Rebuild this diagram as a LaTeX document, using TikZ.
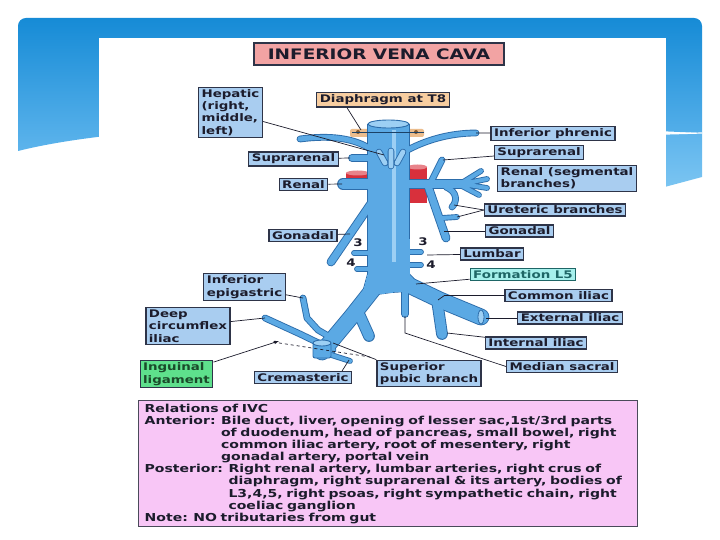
\documentclass[tikz,border=0pt]{standalone}
\usepackage{fontspec}
\setmainfont{DejaVu Sans}[FakeStretch=1.28]
\definecolor{hdrtop}{HTML}{168BD6}
\definecolor{hdrbot}{HTML}{5DB4EC}
\definecolor{hdrlight}{HTML}{8ACDF4}
\definecolor{boxfill}{HTML}{A9CDF0}
\definecolor{boxline}{HTML}{2E3448}
\definecolor{titlefill}{HTML}{F2A3A3}
\definecolor{diafill}{HTML}{F7CDA0}
\definecolor{greenfill}{HTML}{5EE08C}
\definecolor{greentxt}{HTML}{1A4A2A}
\definecolor{cyanfill}{HTML}{A6F0EC}
\definecolor{cyantxt}{HTML}{1E6666}
\definecolor{pinkfill}{HTML}{F8C6F6}
\definecolor{reledge}{HTML}{4A4A5A}
\definecolor{vein}{HTML}{5BA9E4}
\definecolor{veinline}{HTML}{2C6CAA}
\definecolor{veinhi}{HTML}{9CCFF4}
\definecolor{artery}{HTML}{D8303C}
\definecolor{txt}{HTML}{1C1C2C}
\tikzset{
  lbl/.style={draw=boxline, fill=boxfill, line width=1.2pt, inner xsep=3pt, inner ysep=2pt,
    text=txt, align=left, font=\bfseries\fontsize{10.5}{12.4}\selectfont},
  ttl/.style={lbl, fill=titlefill, minimum width=250bp, minimum height=22bp,
    font=\bfseries\fontsize{14.5}{16}\selectfont},
  relbox/.style={draw=reledge, fill=pinkfill, line width=1.4pt, inner xsep=6pt, inner ysep=3pt,
    text=txt, align=left, text width=487bp, font=\bfseries\fontsize{11}{12.2}\selectfont},
  num/.style={text=txt, inner sep=0pt, font=\bfseries\fontsize{10.5}{12}\selectfont},
  lead/.style={draw=txt, line width=0.7pt},
}
\newcommand{\ivcveins}[2]{%
\begin{scope}[#1, line cap=round, line join=round]
\draw[line width=41+#2, line cap=butt] (388.5,124) -- (388.5,250);
\filldraw[line width=#2] (368,240) -- (409,240) -- (409,274) -- (424,290) -- (392,292) -- (362,296) -- (368,274) -- cycle;
\draw[line width=15+#2] (382,278) -- (352,316) -- (322,352);
\draw[line width=15+#2] (398,280) -- (440,300) -- (481,317);
\draw[line width=10+#2] (360,316) -- (369,336);
\draw[line width=10+#2] (437,300) -- (442,334);
\draw[line width=6+#2] (405,292) -- (405,314);
\draw[line width=10+#2] (343,184) -- (372,184);
\draw[line width=9+#2] (404,184) -- (466,184);
\draw[line width=4+#2] (460,184) -- (481,171) (462,184) -- (487,179) (462,184) -- (487,188) (460,185) -- (479,195);
\draw[line width=5+#2] (430,184) -- (442,160);
\draw[line width=7+#2] (428,186) -- (446,238);
\draw[line width=5+#2] (446,187) .. controls (458,192) and (457,202) .. (452,207);
\draw[line width=4+#2] (442,218) -- (457,217);
\draw[line width=7+#2] (372,202) -- (331,262);
\draw[line width=4+#2] (354,253) -- (372,253) (357,269) -- (372,269) (404,252) -- (421,252) (404,265) -- (421,265);
\draw[line width=6+#2] (352,158) -- (372,158);
\draw[line width=5+#2] (300,139) .. controls (330,135) and (355,138) .. (372,150);
\draw[line width=5+#2] (404,152) .. controls (425,140) and (450,133) .. (476,133);
\draw[line width=5+#2] (303,298) -- (307,318) -- (318,330) -- (330,337);
\draw[line width=5+#2] (265,318) -- (300,334) -- (333,350);
\draw[line width=4+#2] (322,352) -- (350,361);
\end{scope}}
\begin{document}
\begin{tikzpicture}[x=1bp, y=-1bp]
\useasboundingbox (0,0) rectangle (720,540);
\shade[top color=hdrtop, bottom color=hdrbot] (18,151) [rounded corners=8] -- (18,18) -- (702,18) [sharp corners] -- (702,133) .. controls (420,120) and (150,118) .. (18,151);
\shade[top color=hdrbot, bottom color=hdrlight] (560,137) -- (702,133) -- (702,177) -- (560,215) -- cycle;
\draw[white, line width=1.2pt] (560,137) -- (702,133);
\fill[white] (99,38) rectangle (666,540);

\fill[diafill!80!brown, rounded corners=2] (350,129) rectangle (424,137);
\fill[brown!70!black] (358,132) circle (2) (416,132) circle (2);
\fill[artery] (346,173) rectangle (369,182);
\fill[artery!60!white] (357.5,173) ellipse (11.5 and 2.5);
\fill[artery] (408,167) rectangle (427,203);
\fill[artery!60!white] (417.5,167) ellipse (9.5 and 2.5);

\ivcveins{veinline}{1.8}
\ivcveins{vein}{0}

\draw[veinhi, line width=4pt] (394,130) -- (394,262);
\draw[fill=veinhi, draw=veinline, line width=0.9pt] (388.5,124) ellipse (20.5 and 4);
\draw[veinline!60!black, line width=0.6pt] (352,132) -- (424,132);
\draw[veinline, line width=6.6pt, line cap=round] (379,152) -- (385,163) (391,151) -- (391,166) (403,152) -- (397,163);
\draw[veinhi, line width=4.8pt, line cap=round] (379,152) -- (385,163) (391,151) -- (391,166) (403,152) -- (397,163);
\draw[fill=veinhi, draw=veinline, line width=0.8pt] (481,317) ellipse (3 and 7);
\draw[fill=vein, draw=veinline, line width=0.9pt, rounded corners=2] (313,343) rectangle (331,358);
\draw[fill=veinhi, draw=veinline, line width=0.9pt] (322,343) ellipse (9 and 3);

\node[num] (n3l) at (358,243) {3};
\node[num] (n4l) at (351,263) {4};
\node[num] (n3r) at (423,242) {3};
\node[num] (n4r) at (431,265) {4};

\coordinate (p-hep) at (384,155);
\coordinate (p-dia) at (361,130);
\coordinate (p-phr) at (476,133);
\coordinate (p-supR) at (443,160);
\coordinate (p-supL) at (350,158);
\coordinate (p-renL) at (342,184);
\coordinate (p-ur1) at (454,205);
\coordinate (p-ur2) at (457,217);
\coordinate (p-gonR) at (444,231);
\coordinate (p-gonL) at (350,234);
\coordinate (p-lumb) at (427,255);
\coordinate (p-form) at (416,284);
\coordinate (p-comil) at (438,300);
\coordinate (p-extil) at (486,318);
\coordinate (p-intil) at (447,333);
\coordinate (p-med) at (405,316);
\coordinate (p-pub) at (333,343);
\coordinate (p-crem) at (349,360);
\coordinate (p-epi) at (303,298);
\coordinate (p-circ) at (265,318);
\coordinate (p-ing) at (279,341);
\coordinate (p-lig1) at (273,342);
\coordinate (p-lig2) at (370,357);

\node[ttl] (title) at (379,54) {INFERIOR VENA CAVA};
\node[lbl] (hep) at (230.5,112.5) {Hepatic\\(right,\\middle,\\left)};
\node[lbl, fill=diafill] (dia) at (383,100) {Diaphragm at T8};
\node[lbl] (infph) at (553,133.5) {Inferior phrenic};
\node[lbl] (supR) at (539,152.5) {Suprarenal};
\node[lbl] (supL) at (293.5,159) {Suprarenal};
\node[lbl] (renL) at (303.5,184.5) {Renal};
\node[lbl] (renseg) at (567,178.5) {Renal (segmental\\branches)};
\node[lbl] (ureter) at (555,210) {Ureteric branches};
\node[lbl] (gonR) at (519.5,231) {Gonadal};
\node[lbl] (gonL) at (303,235.5) {Gonadal};
\node[lbl] (lumb) at (492,254) {Lumbar};
\node[lbl, fill=cyanfill, draw=cyantxt, text=cyantxt] (form) at (523,274.5) {Formation L5};
\node[lbl] (infepi) at (244.5,287) {Inferior\\epigastric};
\node[lbl] (comil) at (558.5,295.5) {Common iliac};
\node[lbl] (dcirc) at (188,326) {Deep\\circumflex\\iliac};
\node[lbl] (extil) at (570,318) {External iliac};
\node[lbl] (intil) at (536,343) {Internal iliac};
\node[lbl, fill=greenfill, text=greentxt] (ing) at (176.5,374) {Inguinal\\ligament};
\node[lbl] (crem) at (303,377.5) {Cremasteric};
\node[lbl] (supub) at (429,373.5) {Superior\\pubic branch};
\node[lbl] (medsac) at (562,366.5) {Median sacral};
\node[relbox, anchor=north west] (rel) at (138,400) {Relations of IVC\\
Anterior: Bile duct, liver, opening of lesser sac,1st/3rd parts\\
\phantom{Anterior: }of duodenum, head of pancreas, small bowel, right\\
\phantom{Anterior: }common iliac artery, root of mesentery, right\\
\phantom{Anterior: }gonadal artery, portal vein\\
Posterior: Right renal artery, lumbar arteries, right crus of\\
\phantom{Posterior: }diaphragm, right suprarenal \& its artery, bodies of\\
\phantom{Posterior: }L3,4,5, right psoas, right sympathetic chain, right\\
\phantom{Posterior: }coeliac ganglion\\
Note: NO tributaries from gut};

\draw[lead] (hep) -- (p-hep);
\draw[lead] ([xshift=-36bp]dia.south) -- (p-dia);
\draw[lead] (infph) -- (p-phr);
\draw[lead] (supR) -- (p-supR);
\draw[lead] (supL) -- (p-supL);
\draw[lead] (renL) -- (p-renL);
\draw[lead] (ureter.west) -- (p-ur1);
\draw[lead] (ureter.west) -- (p-ur2);
\draw[lead] (gonR) -- (p-gonR);
\draw[lead] (gonL) -- (p-gonL);
\draw[lead] (lumb) -- (p-lumb);
\draw[lead] (form) -- (p-form);
\draw[lead] (comil.west) -- ++(-60,0) -- (p-comil);
\draw[lead] (extil) -- (p-extil);
\draw[lead] (intil) -- (p-intil);
\draw[lead] (p-med) -- ++(0,17) -- (medsac.west);
\draw[lead] (supub.north west) -- (p-pub);
\draw[lead] ([xshift=-10bp]crem.north east) -- (p-crem);
\draw[lead] (infepi) -- (p-epi);
\draw[lead] (dcirc) -- (p-circ);
\draw[lead, -latex] (ing) -- (p-ing);
\draw[lead, dashed] (p-lig1) -- (p-lig2);
\end{tikzpicture}
\end{document}
